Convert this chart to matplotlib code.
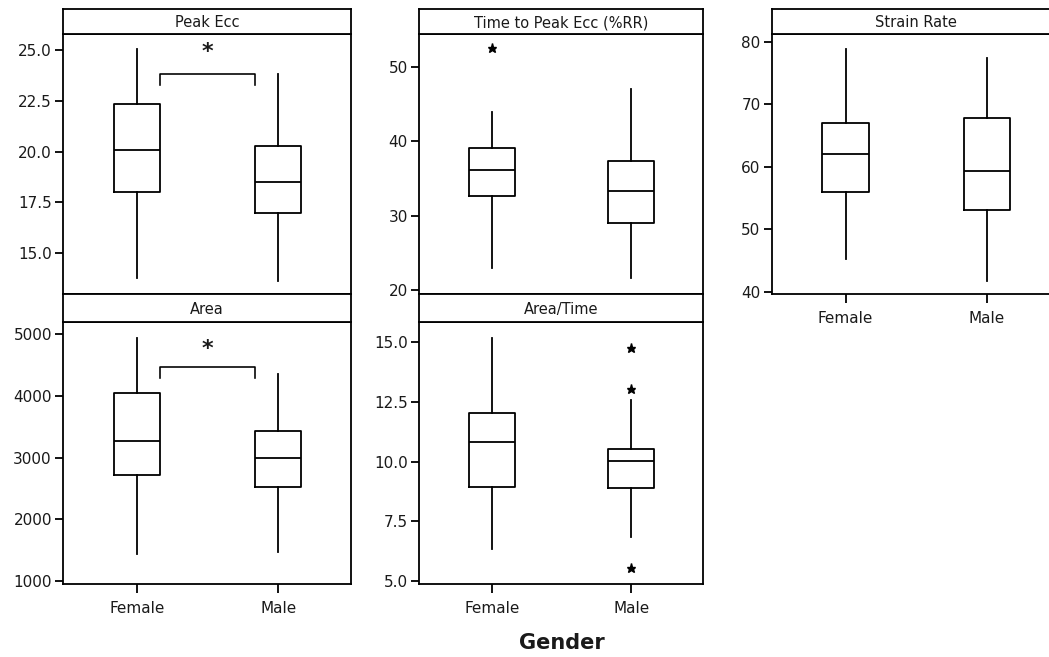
import matplotlib
matplotlib.use("Agg")
import matplotlib.pyplot as plt

groups = ["Female", "Male"]

# Box statistics: [whisker low, Q1, median, Q3, whisker high]
peak_ecc = {"Female": [13.75, 18.0, 20.06, 22.34, 25.03], "Male": [13.6, 16.95, 18.5, 20.27, 23.82]}
peak_ecc_out = {"Female": [], "Male": []}

time_peak = {"Female": [23.0, 32.6, 36.1, 39.03, 43.95], "Male": [21.6, 29.0, 33.27, 37.3, 46.96]}
time_peak_out = {"Female": [52.47], "Male": []}

strain = {"Female": [45.3, 55.95, 62.03, 67.1, 78.8], "Male": [41.7, 53.1, 59.3, 67.8, 77.5]}
strain_out = {"Female": [], "Male": []}

area = {"Female": [1438, 2725, 3270, 4053, 4935], "Male": [1476, 2530, 2990, 3431, 4356]}
area_out = {"Female": [], "Male": []}

area_time = {"Female": [6.33, 8.95, 10.81, 12.05, 15.19], "Male": [6.83, 8.88, 10.02, 10.54, 12.6]}
area_time_out = {"Female": [], "Male": [14.75, 13.03, 5.55]}

panels = [
    # title, stats, outliers, yticks, ylim, tick format, position(col,row), show x labels, bracket (y_top, y_end, star_y)
    ("Peak Ecc", peak_ecc, peak_ecc_out, [15.0, 17.5, 20.0, 22.5, 25.0], (12.98, 25.79), "{:.1f}", (0, 0), False, (23.83, 23.3, 24.9)),
    ("Time to Peak Ecc (%RR)", time_peak, time_peak_out, [20, 30, 40, 50], (19.46, 54.39), "{:.0f}", (1, 0), False, None),
    ("Strain Rate", strain, strain_out, [40, 50, 60, 70, 80], (39.63, 81.28), "{:.0f}", (2, 0), True, None),
    ("Area", area, area_out, [1000, 2000, 3000, 4000, 5000], (951, 5200), "{:.0f}", (0, 1), True, (4464, 4290, 4770)),
    ("Area/Time", area_time, area_time_out, [5.0, 7.5, 10.0, 12.5, 15.0], (4.87, 15.85), "{:.1f}", (1, 1), True, None),
]

W, H = 1049, 657
fig = plt.figure(figsize=(W / 100, H / 100), dpi=100)
plt.rcParams["font.family"] = ["DejaVu Sans"]

col_x = [(63, 288), (419, 284), (771.7, 288)]
row_plot = [(34, 294), (322, 584)]
row_strip = [(9, 34), (294, 322)]

LW = 1.3
TXT = "#1a1a1a"

def fx(px):
    return px / W

def fy(py):
    return 1 - py / H

for title, stats, outs, yt, yl, fmt, (c, r), showx, bracket in panels:
    x0, w = col_x[c]
    pt, pb = row_plot[r]
    st, sb = row_strip[r]
    ax = fig.add_axes([fx(x0), fy(pb), fx(w), (pb - pt) / H])
    sx = fig.add_axes([fx(x0), fy(sb), fx(w), (sb - st) / H])

    bxp_stats = []
    for g in groups:
        lo, q1, med, q3, hi = stats[g]
        bxp_stats.append(dict(med=med, q1=q1, q3=q3, whislo=lo, whishi=hi, fliers=outs[g], label=g))
    ax.bxp(bxp_stats, positions=[0, 1], widths=0.33, showcaps=False,
           boxprops=dict(color="black", linewidth=LW),
           whiskerprops=dict(color="black", linewidth=LW),
           medianprops=dict(color="black", linewidth=LW),
           flierprops=dict(marker="*", markerfacecolor="black", markeredgecolor="black", markersize=6.5))
    ax.set_xlim(-0.524, 1.516)
    ax.set_ylim(*yl)
    ax.set_yticks(yt)
    ax.set_yticklabels([fmt.format(v) for v in yt])
    ax.tick_params(axis="y", direction="out", length=6, width=LW, pad=2, labelsize=11, labelcolor=TXT)
    ax.set_xticks([0, 1])
    if showx:
        ax.set_xticklabels(groups)
        ax.tick_params(axis="x", direction="out", length=6.5, width=LW, pad=6, labelsize=11, labelcolor=TXT)
    else:
        ax.set_xticklabels([])
        ax.tick_params(axis="x", length=0)
    for s in ax.spines.values():
        s.set_linewidth(LW)
    if bracket is not None:
        ytop, yend, ystar = bracket
        ax.plot([0.165, 0.165, 0.835, 0.835], [yend, ytop, ytop, yend], color="black", lw=LW * 0.9)
        ax.text(0.5, ystar, "*", ha="center", va="center", fontsize=16, fontweight="bold", color=TXT)

    sx.set_xticks([])
    sx.set_yticks([])
    for s in sx.spines.values():
        s.set_linewidth(LW)
    sx.text(0.5, 0.45, title, ha="center", va="center", fontsize=10.5, color=TXT, transform=sx.transAxes)

fig.text(fx(562), fy(643), "Gender", ha="center", va="center", fontsize=15, fontweight="bold", color=TXT)

fig.savefig("out.png", dpi=100)
